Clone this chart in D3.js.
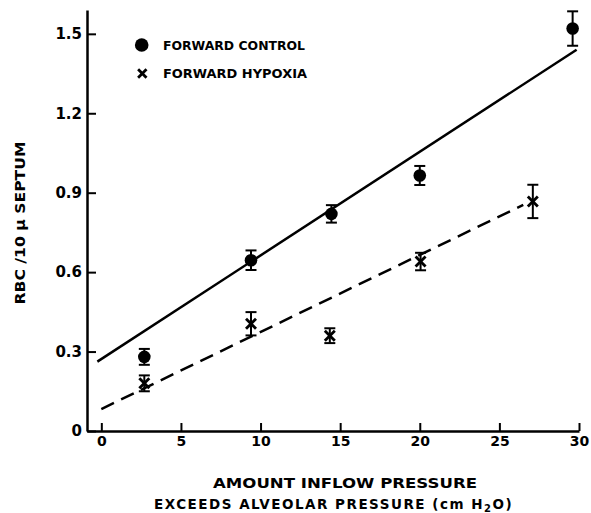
<!DOCTYPE html>
<html>
<head>
<meta charset="utf-8">
<script src="https://cdn.jsdelivr.net/npm/d3@7"></script>
<style>
  html, body { margin: 0; padding: 0; background: #fff; }
  svg { display: block; }
  text { font-family: "DejaVu Sans", sans-serif; font-weight: bold; fill: #000; }
</style>
</head>
<body>
<svg id="chart" width="591" height="513"></svg>
<script>
// ---- data ----
const controlX   = [2.7, 9.4, 14.45, 20, 29.6];
const controlY   = [0.28, 0.645, 0.82, 0.965, 1.52];
const controlErr = [0.03, 0.037, 0.033, 0.036, 0.065];

const hypoxiaX   = [2.7, 9.4, 14.35, 20.05, 27.1];
const hypoxiaY   = [0.18, 0.405, 0.36, 0.64, 0.867];
const hypoxiaErr = [0.03, 0.044, 0.028, 0.033, 0.063];

const controlFitX = [-0.25, 29.85];
const controlFitY = [0.262, 1.44];
const hypoxiaFitX = [0, 26.5];
const hypoxiaFitY = [0.083, 0.854];

const xTicks = [0, 5, 10, 15, 20, 25, 30];
const yTicks = [0, 0.3, 0.6, 0.9, 1.2, 1.5];
const legendLabels = ["FORWARD CONTROL", "FORWARD HYPOXIA"];
const xTitle = ["AMOUNT INFLOW PRESSURE", "EXCEEDS ALVEOLAR PRESSURE (cm H"];
const yTitle = "RBC /10 \u03bc SEPTUM";

// ---- scales ----
const svg = d3.select("#chart");
const x = d3.scaleLinear().domain([-0.9, 30]).range([87, 579]);
const y = d3.scaleLinear().domain([0, 1.59]).range([431, 10]);

// ---- axes ----
const xAxis = d3.axisBottom(x).tickValues(xTicks).tickSize(-8).tickSizeOuter(0).tickPadding(5)
  .tickFormat(d3.format("d"));
const gx = svg.append("g").attr("transform", `translate(0,${y(0)})`).call(xAxis);
gx.select(".domain").attr("stroke", "#000").attr("stroke-width", 2.5);
gx.selectAll(".tick line").attr("stroke", "#000").attr("stroke-width", 2);
gx.selectAll(".tick text").style("font-size", "14px").style("font-family", "DejaVu Sans").style("font-weight", "bold");

const yAxis = d3.axisLeft(y).tickValues(yTicks).tickSize(-9).tickSizeOuter(0).tickPadding(5)
  .tickFormat(d => d === 0 ? "0" : d3.format(".1f")(d));
const gy = svg.append("g").attr("transform", `translate(${x(-0.9)},0)`).call(yAxis);
gy.select(".domain").attr("stroke", "#000").attr("stroke-width", 2.5);
gy.selectAll(".tick line").attr("stroke", "#000").attr("stroke-width", 2);
gy.selectAll(".tick text").style("font-size", "15px").style("font-family", "DejaVu Sans").style("font-weight", "bold");

// ---- fit lines ----
const line = d3.line().x(d => x(d[0])).y(d => y(d[1]));
svg.append("path")
  .attr("d", line(d3.zip(controlFitX, controlFitY)))
  .attr("stroke", "#000").attr("stroke-width", 2.5).attr("fill", "none");
svg.append("path")
  .attr("d", line(d3.zip(hypoxiaFitX, hypoxiaFitY)))
  .attr("stroke", "#000").attr("stroke-width", 2.5).attr("fill", "none")
  .attr("stroke-dasharray", "14,8");

// ---- error bars ----
function errorBars(xs, ys, es) {
  const g = svg.append("g").attr("stroke", "#000").attr("stroke-width", 2);
  xs.forEach((xv, i) => {
    const cx = x(xv), top = y(ys[i] + es[i]), bot = y(ys[i] - es[i]);
    g.append("line").attr("x1", cx).attr("x2", cx).attr("y1", top).attr("y2", bot);
    g.append("line").attr("x1", cx - 5.5).attr("x2", cx + 5.5).attr("y1", top).attr("y2", top);
    g.append("line").attr("x1", cx - 5.5).attr("x2", cx + 5.5).attr("y1", bot).attr("y2", bot);
  });
}
errorBars(controlX, controlY, controlErr);
errorBars(hypoxiaX, hypoxiaY, hypoxiaErr);

// ---- markers ----
svg.append("g").selectAll("circle").data(d3.zip(controlX, controlY)).join("circle")
  .attr("cx", d => x(d[0])).attr("cy", d => y(d[1])).attr("r", 6.3).attr("fill", "#000");

function cross(g, cx, cy, s) {
  g.append("line").attr("x1", cx - s).attr("y1", cy - s).attr("x2", cx + s).attr("y2", cy + s);
  g.append("line").attr("x1", cx - s).attr("y1", cy + s).attr("x2", cx + s).attr("y2", cy - s);
}
const gh = svg.append("g").attr("stroke", "#000").attr("stroke-width", 2.8);
hypoxiaX.forEach((xv, i) => cross(gh, x(xv), y(hypoxiaY[i]), 5));

// ---- legend ----
svg.append("circle").attr("cx", 141.7).attr("cy", 45).attr("r", 6.8).attr("fill", "#000");
const gl = svg.append("g").attr("stroke", "#000").attr("stroke-width", 2.8);
cross(gl, 142.3, 73.5, 4.2);
svg.append("text").attr("x", 163).attr("y", 49.5).attr("textLength", 142).attr("lengthAdjust", "spacingAndGlyphs")
  .style("font-size", "11.5px").text(legendLabels[0]);
svg.append("text").attr("x", 163).attr("y", 77.5).attr("textLength", 144).attr("lengthAdjust", "spacingAndGlyphs")
  .style("font-size", "11.5px").text(legendLabels[1]);

// ---- axis titles ----
svg.append("text").attr("x", 345).attr("y", 488).attr("text-anchor", "middle")
  .attr("textLength", 264).attr("lengthAdjust", "spacingAndGlyphs")
  .style("font-size", "13.5px").text(xTitle[0]);
const t2 = svg.append("text").attr("x", 154).attr("y", 509)
  .style("font-size", "13.5px").style("letter-spacing", "1.5px");
t2.append("tspan").text(xTitle[1]);
t2.append("tspan").attr("dy", 3).style("font-size", "10px").text("2");
t2.append("tspan").attr("dy", -3).text("O)");

svg.append("text").attr("transform", "translate(25,223) rotate(-90)")
  .attr("text-anchor", "middle").attr("textLength", 163).attr("lengthAdjust", "spacingAndGlyphs")
  .style("font-size", "13.5px").text(yTitle);
</script>
</body>
</html>
